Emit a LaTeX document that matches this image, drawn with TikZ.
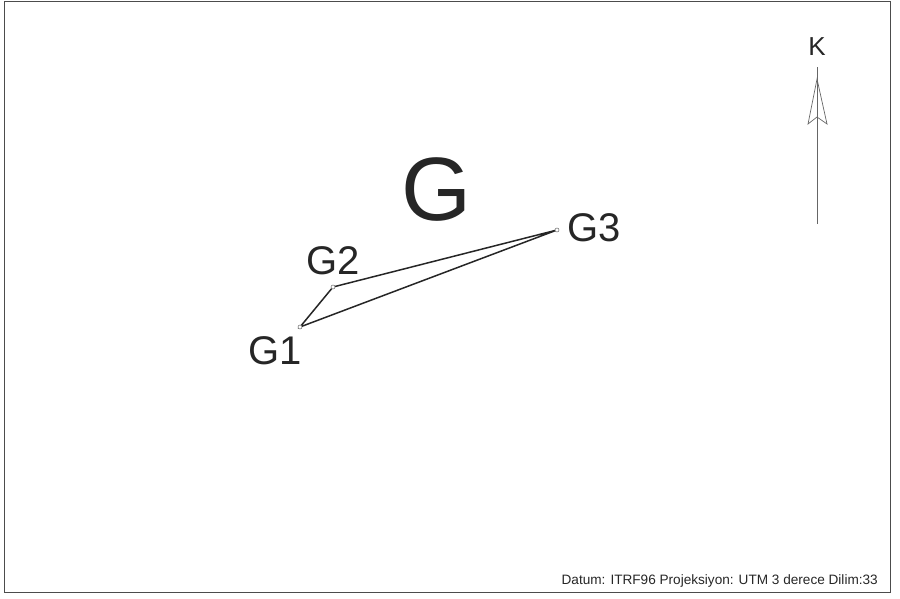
\documentclass[tikz,border=0pt]{standalone}
\usepackage{fontspec}
\setmainfont{Liberation Sans}
\begin{document}
\begin{tikzpicture}[x=1pt,y=-1pt,
  lbl/.style={inner sep=0pt,text=black!85},
  pt/.style={circle,draw=black!60,fill=white,inner sep=0pt,minimum size=4pt,line width=0.5pt},
  edge/.style={line width=1.5pt,black!85}]
\useasboundingbox (0,0) rectangle (900,599);
\draw[black!70,line width=1pt] (4,2) rectangle (890,592);
\coordinate (p1) at (300,327);
\coordinate (p2) at (333,287);
\coordinate (p3) at (557,230);
\draw[edge] (p1) -- (p2) -- (p3) -- cycle;
\node[pt] (g1) at (p1) {};
\node[pt] (g2) at (p2) {};
\node[pt] (g3) at (p3) {};
\node[lbl,font=\fontsize{40}{40}\selectfont] (t1) at (275,351) {G1};
\node[lbl,font=\fontsize{40}{40}\selectfont] (t2) at (333,261) {G2};
\node[lbl,font=\fontsize{40}{40}\selectfont] (t3) at (594,228) {G3};
\node[lbl,font=\fontsize{90}{90}\selectfont] (big) at (436,190) {G};
\node[lbl,font=\fontsize{26}{26}\selectfont] (k) at (817,47) {K};
\coordinate (nb) at (817,224);
\coordinate (nt) at (817,67);
\draw[black!60,line width=0.8pt] (nb) -- (nt);
\draw[black!60,line width=0.7pt,fill=white] (817,79) -- (827,124) -- (817,117) -- (808,124) -- cycle;
\draw[black!60,line width=0.8pt] (817,79) -- (817,224);
\node[lbl,anchor=base east,font=\fontsize{13.6}{13.6}\selectfont] (dat) at (878,584) {Datum: ITRF96 Projeksiyon: UTM 3 derece Dilim:33};
\end{tikzpicture}
\end{document}
